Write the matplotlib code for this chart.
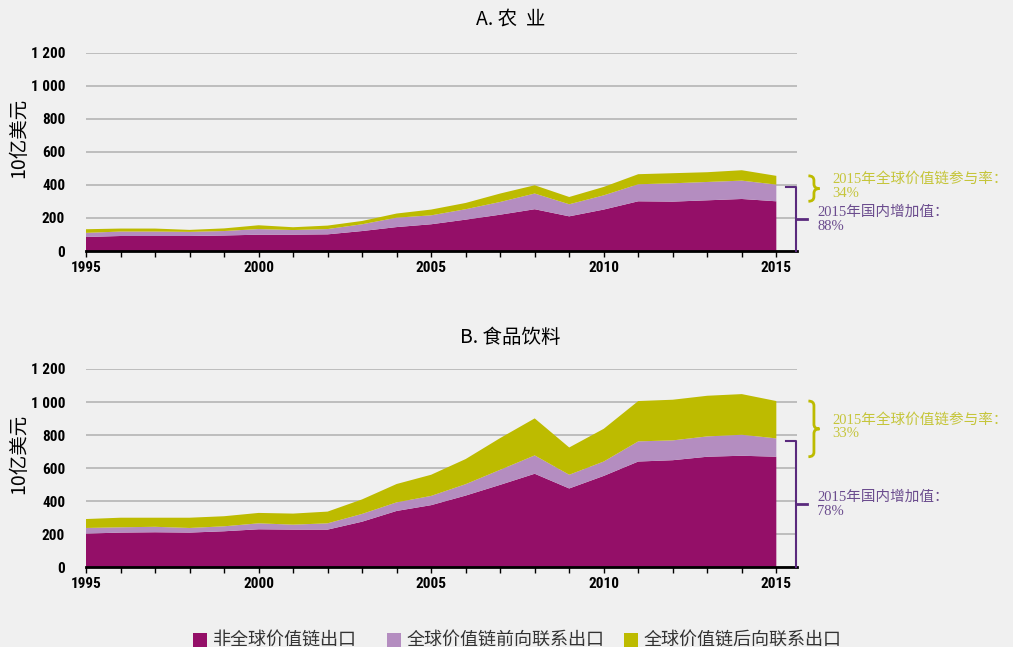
import matplotlib.pyplot as plt
from matplotlib import font_manager as fm
from matplotlib.path import Path
from matplotlib.patches import PathPatch, Rectangle

plt.rcParams['font.family'] = ['Noto Sans CJK SC', 'DejaVu Sans']

years = list(range(1995, 2016))

# A. agriculture (billion USD), stacked: non-GVC, GVC forward, GVC backward
agr_non = [85, 91, 91, 91, 94, 99, 99, 101, 121, 145, 162, 190, 220, 253, 210, 251, 301, 299, 307, 315, 301]
agr_fwd = [25, 27, 27, 25, 27, 34, 28, 32, 41, 57, 54, 63, 77, 95, 73, 86, 103, 111, 111, 111, 101]
agr_bwd = [22, 18, 18, 12, 16, 23, 17, 21, 20, 25, 35, 38, 51, 50, 44, 51, 61, 61, 59, 63, 53]

# B. food & beverages
food_non = [204, 210, 212, 210, 218, 230, 228, 228, 276, 341, 376, 434, 499, 566, 477, 553, 640, 648, 669, 675, 669]
food_fwd = [34, 32, 33, 28, 30, 36, 30, 38, 47, 52, 56, 69, 91, 111, 83, 87, 122, 120, 123, 127, 111]
food_bwd = [54, 58, 55, 62, 61, 63, 67, 71, 88, 111, 128, 152, 192, 224, 165, 198, 244, 246, 246, 246, 226]

series_names = ['非全球价值链出口', '全球价值链前向联系出口', '全球价值链后向联系出口']
colors = ['#940f68', '#b48dc0', '#bdbb00']
yticks = [0, 200, 400, 600, 800, 1000, 1200]
ytick_labels = ['0', '200', '400', '600', '800', '1 000', '1 200']

panels = [
    ('A. 农  业', agr_non, agr_fwd, agr_bwd, 34, 88),
    ('B. 食品饮料', food_non, food_fwd, food_bwd, 33, 78),
]

bg = '#f0f0f0'
yel_txt = '#c5c53a'
pur_txt = '#6b4c8e'
pur_line = '#5a2a7d'

# pick a condensed face for the numbers if one is installed
names = {f.name for f in fm.fontManager.ttflist}
narrow = next((n for n in ['Liberation Sans Narrow', 'DejaVu Sans Condensed', 'Roboto Condensed']
               if n in names), None)
if narrow:
    num_font = dict(family=[narrow, 'DejaVu Sans'], fontweight='bold', fontsize=11)
else:
    num_font = dict(family=['DejaVu Sans'], fontstretch='condensed', fontweight='bold', fontsize=10)
ann_font = ['Liberation Serif', 'Noto Sans CJK SC']

fig = plt.figure(figsize=(10.13, 6.47), dpi=100, facecolor=bg)


def brace(ax, x0, x1, y0, y1, r, color):
    xm = (x0 + x1) / 2
    ym = (y0 + y1) / 2
    verts = [(x0, y1), (xm, y1), (xm, y1 - r),
             (xm, ym + r), (xm, ym), (x1, ym),
             (xm, ym), (xm, ym - r),
             (xm, y0 + r), (xm, y0), (x0, y0)]
    codes = [Path.MOVETO, Path.CURVE3, Path.CURVE3,
             Path.LINETO, Path.CURVE3, Path.CURVE3,
             Path.CURVE3, Path.CURVE3,
             Path.LINETO, Path.CURVE3, Path.CURVE3]
    ax.add_patch(PathPatch(Path(verts, codes), fill=False, ec=color, lw=2, clip_on=False))


for i, (title, non, fwd, bwd, gvc_pct, dva_pct) in enumerate(panels):
    bottom = 0.612 if i == 0 else 0.1232
    ax = fig.add_axes([0.0849, bottom, 0.7019, 0.3065])
    ax.set_facecolor(bg)
    ax.stackplot(years, non, fwd, bwd, colors=colors, zorder=2)
    ax.set_xlim(1995, 2015.6)
    ax.set_ylim(0, 1200)
    for s in ['top', 'right', 'left']:
        ax.spines[s].set_visible(False)
    ax.spines['bottom'].set_linewidth(2)
    ax.spines['bottom'].set_zorder(3)
    ax.set_yticks(yticks)
    ax.set_yticklabels(ytick_labels, **num_font)
    ax.tick_params(axis='y', length=0, pad=15)
    ax.yaxis.grid(True, color='#b4b4b4', lw=1.2, zorder=1)
    ax.set_xticks(range(1995, 2016, 5))
    ax.set_xticklabels([str(y) for y in range(1995, 2016, 5)], **num_font)
    ax.set_xticks(years, minor=True)
    ax.tick_params(axis='x', which='both', length=4, width=1, pad=3)
    ax.set_ylabel('10亿美元', fontsize=14)
    ax.yaxis.set_label_coords(-0.08, 0.57)
    fig.text(0.504, 0.97 if i == 0 else 0.478, title, fontsize=14, ha='center', va='center')

    total = non[-1] + fwd[-1] + bwd[-1]
    dva = non[-1] + fwd[-1]
    # yellow brace for GVC participation
    brace(ax, 2015.93, 2016.25, non[-1], total, 28, colors[2])
    ax.text(2016.62, (non[-1] + total) / 2 + 15, f'2015年全球价值链参与率：\n{gvc_pct}%',
            family=ann_font, fontsize=10.5, color=yel_txt, va='center', ha='left',
            linespacing=1.05, clip_on=False)
    # purple bracket for domestic value added
    xv = 2015.58
    top = dva - 15
    ax.plot([2015.27, xv, xv], [top, top, 0], color=pur_line, lw=1.5, clip_on=False, zorder=4)
    ax.plot([xv, xv + 0.3], [top / 2, top / 2], color=pur_line, lw=2, clip_on=False, zorder=4)
    ax.text(xv + 0.6, top / 2, f'2015年国内增加值：\n{dva_pct}%',
            family=ann_font, fontsize=10.5, color=pur_txt, va='center', ha='left',
            linespacing=1.05, clip_on=False)

# legend at bottom
leg_x = [0.191, 0.382, 0.616]
for x, name, c in zip(leg_x, series_names, colors):
    fig.patches.append(Rectangle((x, 0.0), 0.0138, 0.0216, transform=fig.transFigure,
                                 facecolor=c, edgecolor='none'))
    fig.text(x + 0.019, 0.011, name, fontsize=13, color='#333333', va='center', ha='left')

fig.savefig('out.png', dpi=100, facecolor=bg)
